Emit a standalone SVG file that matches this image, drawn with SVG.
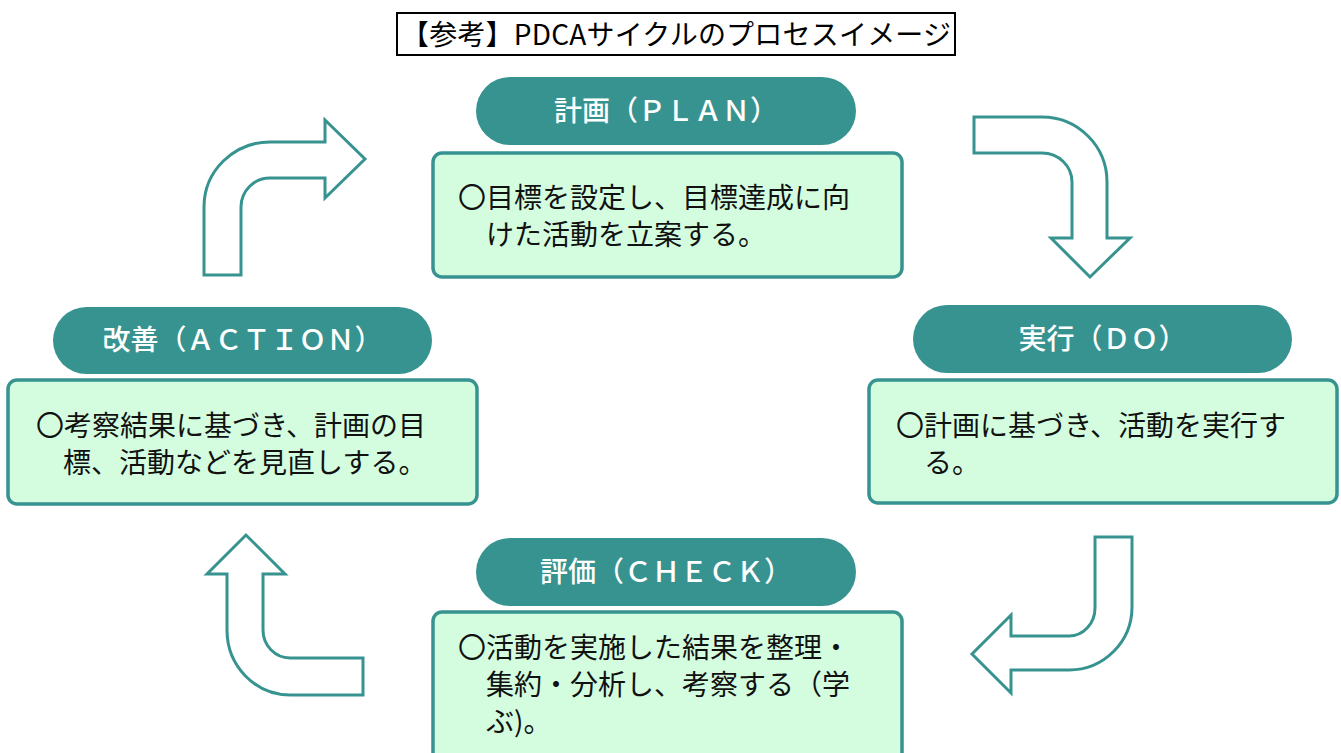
<svg xmlns="http://www.w3.org/2000/svg" width="1341" height="753" viewBox="0 0 1341 753">
<style>
.title{font-family:"Noto Sans CJK JP","Noto Sans",sans-serif;font-size:28px;fill:#000}
.pill{fill:#379390}
.pt{font-family:"Noto Sans CJK JP","Noto Sans",sans-serif;font-size:28px;font-weight:500;fill:#fff;text-anchor:middle}
.box{fill:#d4fde0;stroke:#379390;stroke-width:3.5}
.bt{font-family:"Noto Sans CJK JP","Noto Sans",sans-serif;font-size:28px;fill:#111}
.arr{fill:#fff;stroke:#379390;stroke-width:3;stroke-linejoin:miter}
</style>
<rect width="1341" height="753" fill="#fff"/>
<g id="title">
<rect x="397" y="13" width="558" height="42" fill="#fff" stroke="#000" stroke-width="2"/>
<text class="title" x="401" y="45" textLength="550" lengthAdjust="spacing">【参考】PDCAサイクルのプロセスイメージ</text>
</g>
<g id="plan">
<rect class="pill" x="476" y="77" width="380" height="68" rx="34"/>
<text class="pt" x="666" y="121">計画（ＰＬＡＮ）</text>
<rect class="box" x="433" y="153" width="469" height="124" rx="9"/>
<text class="bt" x="458" y="208">〇目標を設定し、目標達成に向</text>
<text class="bt" x="486" y="245">けた活動を立案する。</text>
</g>
<g id="do">
<rect class="pill" x="913" y="305" width="379" height="68" rx="34"/>
<text class="pt" x="1102.5" y="349">実行（ＤＯ）</text>
<rect class="box" x="869" y="380" width="468" height="123" rx="9"/>
<text class="bt" x="896" y="436">〇計画に基づき、活動を実行す</text>
<text class="bt" x="924" y="473">る。</text>
</g>
<g id="check">
<rect class="pill" x="476" y="538" width="380" height="68" rx="34"/>
<text class="pt" x="666" y="582">評価（ＣＨＥＣＫ）</text>
<rect class="box" x="433" y="612" width="469" height="150" rx="9"/>
<text class="bt" x="458" y="658">〇活動を実施した結果を整理・</text>
<text class="bt" x="486" y="695">集約・分析し、考察する（学</text>
<text class="bt" x="486" y="732">ぶ)。</text>
</g>
<g id="action">
<rect class="pill" x="53" y="307" width="379" height="67" rx="33.5"/>
<text class="pt" x="242.5" y="350">改善（ＡＣＴＩＯＮ）</text>
<rect class="box" x="8" y="380" width="469" height="124" rx="9"/>
<text class="bt" x="36" y="436">〇考察結果に基づき、計画の目</text>
<text class="bt" x="63" y="473">標、活動などを見直しする。</text>
</g>
<g id="connectors">
<path class="arr" d="M204,275 L204,207 A66,65 0 0 1 270,142 L325,142 L325,120 L365,159 L325,198 L325,178 L270,178 A29,29 0 0 0 241,207 L241,275 Z"/>
<path class="arr" d="M974,117 L1042,117 A65,65 0 0 1 1107,182 L1107,238 L1130,238 L1090,277 L1051,238 L1072,238 L1072,182 A30,29 0 0 0 1042,153 L974,153 Z"/>
<path class="arr" d="M1095,537 L1132,537 L1132,607 A63,63 0 0 1 1069,670 L1011,670 L1011,693 L972,654 L1011,615 L1011,636 L1069,636 A26,28 0 0 0 1095,608 Z"/>
<path class="arr" d="M363,658 L363,695 L290,695 A63,65 0 0 1 227,630 L227,574 L207,574 L246,535 L285,574 L263,574 L263,630 A27,28 0 0 0 290,658 Z"/>
</g>
</svg>
